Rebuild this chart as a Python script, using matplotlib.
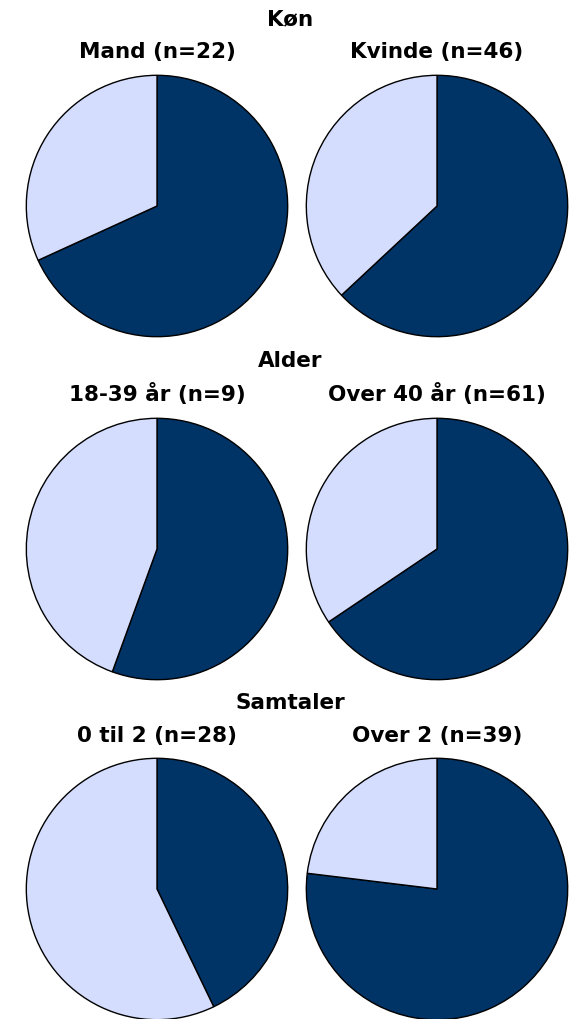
import matplotlib
matplotlib.use("Agg")
import matplotlib.pyplot as plt

groups = ["Køn", "Alder", "Samtaler"]
labels = [("Mand (n=22)", "Kvinde (n=46)"),
          ("18-39 år (n=9)", "Over 40 år (n=61)"),
          ("0 til 2 (n=28)", "Over 2 (n=39)")]
# counts: (dark, light) per pie
dark = [(15, 29), (5, 40), (12, 30)]
total = [(22, 46), (9, 61), (28, 39)]

dark_col = "#003366"
light_col = "#D4DDFD"

W, H = 580, 1019
fig = plt.figure(figsize=(W / 100, H / 100), dpi=100)

centers_x = [157, 437]
centers_y = [206, 549, 889]
group_y = [19, 361, 703]
label_y = [52, 394, 736]
r = 132

plt.rcParams['font.family'] = ['DejaVu Sans']

for i in range(3):
    fig.text(0.5, 1 - group_y[i] / H, groups[i], ha="center", va="center",
             fontsize=15.5, fontweight="bold")
    for j in range(2):
        cx, cy = centers_x[j], centers_y[i]
        fig.text(cx / W, 1 - label_y[i] / H, labels[i][j], ha="center",
                 va="center", fontsize=15.5, fontweight="bold")
        ax = fig.add_axes([(cx - r) / W, 1 - (cy + r) / H, 2 * r / W, 2 * r / H])
        d = dark[i][j]
        l = total[i][j] - d
        ax.pie([d, l], colors=[dark_col, light_col], startangle=90,
               counterclock=False, radius=1,
               wedgeprops=dict(edgecolor="black", linewidth=1.0))
        ax.set_xlim(-1.01, 1.01)
        ax.set_ylim(-1.01, 1.01)
        ax.set_aspect("equal")
        ax.axis("off")

plt.savefig("out.png", dpi=100)
